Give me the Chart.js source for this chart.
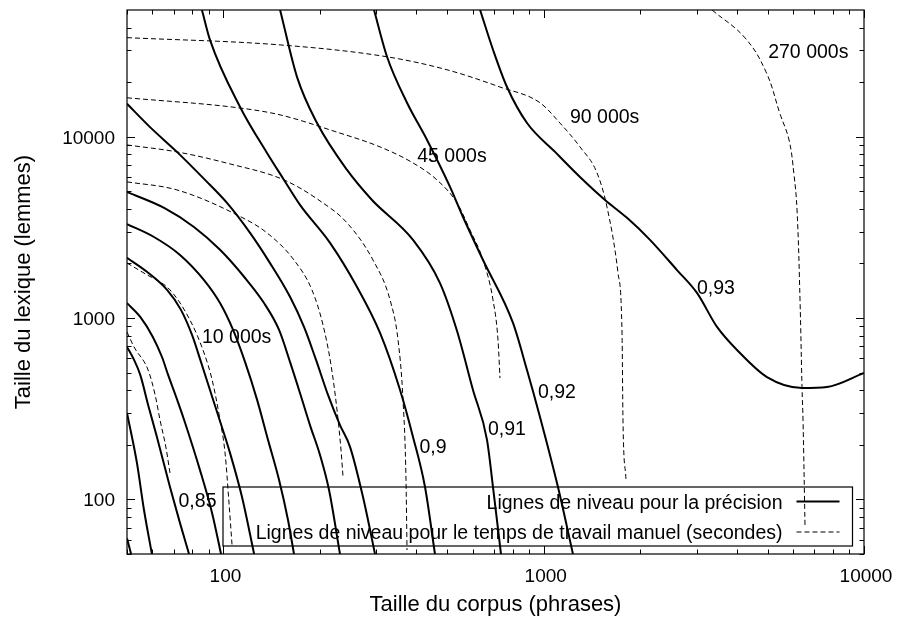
<!DOCTYPE html>
<html>
<head>
<meta charset="utf-8">
<script src="https://cdn.jsdelivr.net/npm/chart.js@4"></script>
<style>
  body { margin: 0; background: #fff; }
</style>
</head>
<body>
<canvas id="chart" width="897" height="619"></canvas>
<script>
// contour lines: [corpus size, lexicon size]
// precision levels (solid)
const precision082 = [[50, 61], [51.5, 50]];
const precision083 = [[50, 300], [53.7, 159], [56.5, 87.4], [59.8, 50]];
const precision084 = [[50, 693], [52.6, 588], [55, 486], [58.2, 332], [62, 221], [68.1, 117], [73.2, 74], [78.1, 50]];
const precision085 = [[50, 1210], [55, 1015], [60.2, 787], [64.3, 610], [67.2, 486], [71.2, 367], [75.4, 274], [84.5, 145], [92.2, 84], [98.3, 50]];
const precision086 = [[50, 2150], [57.7, 1800], [66.7, 1430], [73.7, 1110], [79.8, 807], [85.1, 573], [90.8, 401], [96.2, 292], [104.9, 180], [114.3, 103], [124.7, 50]];
const precision087 = [[50, 3300], [60.7, 2800], [73.2, 2230], [87, 1620], [97.6, 1210], [107.2, 860], [116.8, 573], [127.4, 354], [137.8, 213], [149.2, 128], [159.1, 77], [166.1, 50]];
const precision088 = [[50, 4960], [65.3, 4050], [80.9, 3180], [97.6, 2380], [116, 1690], [133.9, 1210], [149.2, 860], [161.4, 573], [173.4, 386], [186.3, 257], [200.2, 176], [213.6, 113], [231.2, 50]];
const precision089 = [[50, 15200], [59, 11300], [71.6, 8250], [87.6, 5780], [102.6, 4315], [121.1, 2950], [139.8, 2010], [161.4, 1310], [178.5, 894], [194.6, 588], [212.1, 377], [231.2, 257], [248.5, 195], [272.8, 103], [297.4, 50]];
const precision090 = [[85.7, 50000], [90.8, 34200], [112.7, 14600], [136.8, 8140], [154.6, 5780], [173.4, 4210], [215.2, 2600], [261.3, 1485], [308.3, 828], [356, 401], [390.8, 221], [426, 117], [457.6, 50]];
const precision091 = [[150.3, 50000], [169.7, 21400], [196, 11900], [243.2, 6560], [291, 4480], [390.8, 2700], [474.4, 1560], [536.3, 849], [601.5, 401], [665.2, 213], [694.5, 117], [735.6, 50]];
const precision092 = [[295.3, 50000], [324.2, 27600], [374.3, 15400], [432.3, 9600], [509.9, 5290], [559.8, 3610], [646.4, 2090], [801.8, 940], [886.7, 517], [973.6, 285], [1108, 117], [1234, 50]];
const precision093 = [[633, 50000], [695, 30100], [768, 18800], [887, 11900], [1085, 8250], [1298, 6000], [1554, 4480], [1820, 3570], [2147, 2700], [2607, 1840], [3010, 1376], [3476, 894], [4100, 642], [4978, 473], [6405, 412], [7666, 417], [10000, 498]];

// manual work time levels (dashed)
const timeLine1 = [[50, 838], [52.6, 693], [58.2, 517], [61.2, 377], [63.4, 274], [66.2, 192], [68.1, 140]];
const timeLine2 = [[50, 2010], [56.5, 1770], [68.1, 1430], [78.6, 977], [87, 642], [92.2, 456], [97.6, 274], [101.2, 180], [104.1, 95.6], [106.4, 56]];
const timeLine3 = [[50, 5640], [71.6, 5090], [110.3, 3705], [136.8, 2950], [166.1, 2090], [189, 1430], [204.6, 917], [216.7, 552], [226.3, 311], [232.9, 187], [236.3, 133]];
const timeLine4 = [[50, 9010], [71.6, 8250], [104.9, 7080], [154.6, 5780], [200.2, 4430], [243.2, 3350], [293.1, 2090], [331.3, 1260], [350.9, 757], [363.7, 354], [371.6, 128], [374.3, 52.6]];
const timeLine5 = [[50, 16400], [112.7, 14400], [150.3, 13200], [226.3, 10600], [308.3, 8790], [390.8, 7170], [464.2, 5780], [536.3, 4315], [588.7, 3060], [646.4, 2090], [694.5, 1260], [720, 757], [730.3, 467]];
const timeLine6 = [[50, 35200], [150.3, 32100], [324.2, 27600], [498.9, 23400], [730.3, 18800], [973.6, 15400], [1124, 11900], [1298, 8790], [1467, 6320], [1576, 4100], [1706, 1770], [1756, 828], [1768, 274], [1807, 128]];
const timeLine7 = [[3354, 50000], [4251, 35100], [4943, 22800], [5465, 13400], [5833, 9600], [6045, 6190], [6179, 3950], [6313, 1260], [6405, 412], [6451, 274], [6545, 70.4]];

const precisionLines = [precision082, precision083, precision084, precision085, precision086, precision087, precision088, precision089, precision090, precision091, precision092, precision093];
const timeLines = [timeLine1, timeLine2, timeLine3, timeLine4, timeLine5, timeLine6, timeLine7];

// text labels placed on the plot (data coordinates)
const labelTexts = ["270 000s", "90 000s", "45 000s", "10 000s", "0,93", "0,92", "0,91", "0,9", "0,85"];
const labelX = [6700, 1550, 517, 110, 3450, 1100, 768, 451, 83];
const labelY = [29700, 13000, 7940, 797, 1485, 396, 248, 197, 98.7];

const xMajorTicks = [100, 1000, 10000];
const xMinorTicks = [50, 60, 70, 80, 90, 200, 300, 400, 500, 600, 700, 800, 900, 2000, 3000, 4000, 5000, 6000, 7000, 8000, 9000];
const yMajorTicks = [100, 1000, 10000];
const yMinorTicks = [50, 60, 70, 80, 90, 200, 300, 400, 500, 600, 700, 800, 900, 2000, 3000, 4000, 5000, 6000, 7000, 8000, 9000, 20000, 30000, 40000];

const legendLabels = ["Lignes de niveau pour la précision", "Lignes de niveau pour le temps de travail manuel (secondes)"];

const FONT = "'Liberation Sans', Arial, sans-serif";

const toPoints = (line) => line.map(([x, y]) => ({ x, y }));

const datasets = [];
precisionLines.forEach((line) => {
  datasets.push({
    data: toPoints(line),
    borderColor: "#000",
    borderWidth: 2,
    pointRadius: 0,
    cubicInterpolationMode: "monotone",
    fill: false,
  });
});
timeLines.forEach((line) => {
  // the nearly vertical 270 000s line looks better with a plain bezier
  const steep = line === timeLine7;
  datasets.push({
    data: toPoints(line),
    borderColor: "#000",
    borderWidth: 1,
    borderDash: [5, 3],
    pointRadius: 0,
    cubicInterpolationMode: steep ? "default" : "monotone",
    tension: steep ? 0.4 : 0,
    fill: false,
  });
});

// gnuplot-like frame, inward ticks, labels and key
const gnuplotFrame = {
  id: "gnuplotFrame",
  afterDatasetsDraw(chart) {
    const { ctx, chartArea: a, scales } = chart;
    const xs = scales.x;
    const ys = scales.y;
    ctx.save();
    ctx.strokeStyle = "#000";
    ctx.fillStyle = "#000";
    ctx.lineWidth = 1.2;
    ctx.setLineDash([]);
    ctx.strokeRect(a.left, a.top, a.right - a.left, a.bottom - a.top);

    ctx.lineWidth = 1;
    ctx.beginPath();
    const xTick = (v, len) => {
      const px = Math.round(xs.getPixelForValue(v)) + 0.5;
      ctx.moveTo(px, a.bottom);
      ctx.lineTo(px, a.bottom - len);
      ctx.moveTo(px, a.top);
      ctx.lineTo(px, a.top + len);
    };
    const yTick = (v, len) => {
      const py = Math.round(ys.getPixelForValue(v)) + 0.5;
      ctx.moveTo(a.left, py);
      ctx.lineTo(a.left + len, py);
      ctx.moveTo(a.right, py);
      ctx.lineTo(a.right - len, py);
    };
    xMajorTicks.forEach((v) => xTick(v, 8));
    xMinorTicks.forEach((v) => xTick(v, 4.5));
    yMajorTicks.forEach((v) => yTick(v, 8));
    yMinorTicks.forEach((v) => yTick(v, 4.5));
    ctx.stroke();

    // tick labels
    ctx.font = "19px " + FONT;
    ctx.textBaseline = "alphabetic";
    ctx.textAlign = "center";
    xMajorTicks.forEach((v) => ctx.fillText(String(v), xs.getPixelForValue(v) + 2, a.bottom + 28));
    ctx.textAlign = "right";
    yMajorTicks.forEach((v) => ctx.fillText(String(v), a.left - 12, ys.getPixelForValue(v) + 7));

    // axis titles
    ctx.font = "22px " + FONT;
    ctx.textAlign = "center";
    ctx.fillText("Taille du corpus (phrases)", (a.left + a.right) / 2, a.bottom + 57);
    ctx.save();
    ctx.translate(29.5, (a.top + a.bottom) / 2);
    ctx.rotate(-Math.PI / 2);
    ctx.fillText("Taille du lexique (lemmes)", 0, 0);
    ctx.restore();

    // contour labels
    ctx.font = "19.5px " + FONT;
    ctx.textAlign = "center";
    labelTexts.forEach((t, i) => {
      ctx.fillText(t, xs.getPixelForValue(labelX[i]), ys.getPixelForValue(labelY[i]) + 7);
    });

    // key
    const boxL = 223, boxR = a.right - 11.5, boxT = a.bottom - 67, boxB = a.bottom - 8;
    ctx.lineWidth = 1.2;
    ctx.strokeRect(boxL, boxT, boxR - boxL, boxB - boxT);
    ctx.textAlign = "right";
    const rows = [boxT + 14.5, boxT + 44.5];
    legendLabels.forEach((t, i) => {
      ctx.fillText(t, boxR - 70, rows[i] + 7);
    });
    ctx.beginPath();
    ctx.lineWidth = 2;
    ctx.moveTo(boxR - 56, rows[0]);
    ctx.lineTo(boxR - 13, rows[0]);
    ctx.stroke();
    ctx.beginPath();
    ctx.lineWidth = 1;
    ctx.setLineDash([5, 3]);
    ctx.moveTo(boxR - 56, rows[1] + 0.5);
    ctx.lineTo(boxR - 13, rows[1] + 0.5);
    ctx.stroke();
    ctx.restore();
  },
};

new Chart(document.getElementById("chart"), {
  type: "line",
  data: { datasets },
  options: {
    responsive: false,
    animation: false,
    devicePixelRatio: 1,
    layout: { padding: { left: 127, right: 33, top: 10, bottom: 65 } },
    plugins: { legend: { display: false }, tooltip: { enabled: false } },
    scales: {
      x: { type: "logarithmic", min: 50, max: 10000, display: false },
      y: { type: "logarithmic", min: 50, max: 50000, display: false },
    },
  },
  plugins: [gnuplotFrame],
});
</script>
</body>
</html>
